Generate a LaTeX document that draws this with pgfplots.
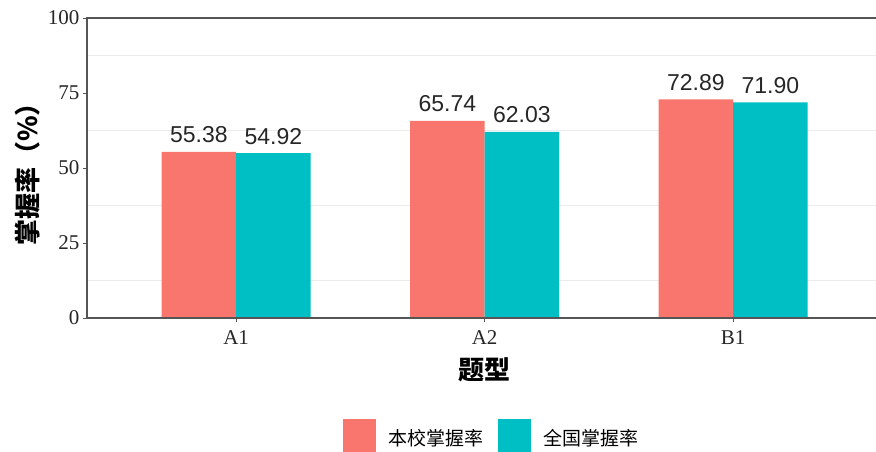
\documentclass[border=0pt]{standalone}
\usepackage{fontspec}
\setmainfont{Liberation Serif}
\newfontfamily\arialfont{Liberation Sans}
\newfontfamily\cjk{Noto Sans CJK SC}
\usepackage{pgfplots}
\pgfplotsset{compat=1.18}
\definecolor{ggred}{HTML}{F8766D}
\definecolor{ggcyan}{HTML}{00BFC4}
\definecolor{axisgray}{HTML}{555555}
\begin{document}
\begin{tikzpicture}
\path[use as bounding box] (-87pt,-133pt) rectangle (789pt,318pt);
\begin{axis}[
  scale only axis, width=789pt, height=300pt,
  xmin=0.4, xmax=3.575, ymin=0, ymax=100,
  ybar, bar width=0.3,
  clip=false,
  axis line style={draw=none},
  tick align=outside, major tick length=4pt, minor tick length=0pt,
  tick style={axisgray, line width=1pt},
  xtick pos=bottom, ytick pos=left,
  xtick={1,2,3}, xticklabels={A1,A2,B1},
  ytick={0,25,50,75,100}, minor ytick={12.5,37.5,62.5,87.5},
  yminorgrids, minor grid style={color=black!8, line width=1pt},
  tick label style={font=\fontsize{21}{21}\selectfont, text=black!85},
  xticklabel style={yshift=-5pt},
  /pgf/number format/assume math mode=true,
  xlabel={\cjk\bfseries 题型},
  ylabel={\cjk\bfseries 掌握率（\%）},
  xlabel style={at={(rel axis cs:0.504,-0.1733)}, anchor=center, font=\fontsize{26}{26}\selectfont},
  ylabel style={at={(rel axis cs:-0.0748,0.5)}, anchor=center, font=\fontsize{26}{26}\selectfont},
  legend columns=2,
  legend style={at={(rel axis cs:0.512,-0.390)}, anchor=center, draw=none, fill=none,
    font=\cjk\fontsize{19}{19}\selectfont, nodes={inner sep=0pt},
    /tikz/every odd column/.append style={column sep=13pt},
    /tikz/every even column/.append style={column sep=14pt}},
  legend image code/.code={\fill[#1] (0pt,-13pt) rectangle (33pt,20pt);},
  nodes near coords={\pgfmathprintnumber[fixed,fixed zerofill,precision=2]{\pgfplotspointmeta}},
  every node near coord/.append style={font=\arialfont\fontsize{23}{23}\selectfont, text=black!85, anchor=base, inner sep=0pt, yshift=9pt},
]
\addplot[fill=ggred, draw=none, bar shift=-0.15] coordinates {(1,55.38) (2,65.74) (3,72.89)};
\addplot[fill=ggcyan, draw=none, bar shift=0.15] coordinates {(1,54.92) (2,62.03) (3,71.90)};
\legend{本校掌握率, 全国掌握率}
\draw[axisgray, line width=1.2pt] (rel axis cs:1,1) -- (rel axis cs:0,1) -- (rel axis cs:0,0) -- (rel axis cs:1,0);
\end{axis}
\end{tikzpicture}
\end{document}
